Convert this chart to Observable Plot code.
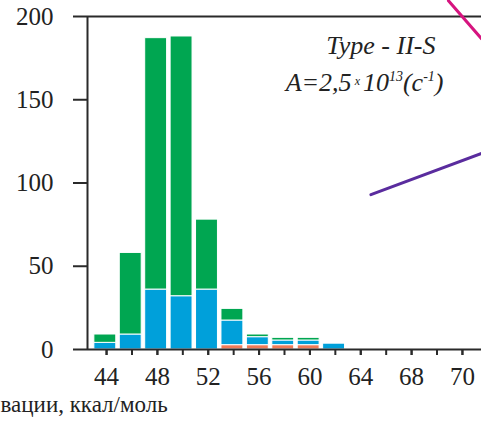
<!DOCTYPE html>
<html><head><meta charset="utf-8">
<script src="https://cdn.jsdelivr.net/npm/d3@7"></script>
<script src="https://cdn.jsdelivr.net/npm/@observablehq/plot@0.6"></script>
<style>
body{margin:0;background:#fff;}
svg{display:block}
svg text, svg tspan{font-family:"Liberation Serif","Times New Roman",serif !important;}
</style>
</head><body><div id="chart"></div>
<script>
// bins (activation energy, kcal/mol) and stacked counts per series
const bins   = [44, 46, 48, 50, 52, 54, 56, 58, 60, 62];
const seriesA = [0, 0, 0, 0, 0, 2.6, 2.6, 2.6, 2.6, 0];        // orange (bottom)
const seriesB = [4, 9, 36, 32, 36, 14.8, 4.8, 2.8, 2.8, 3.5];   // blue
const seriesC = [5, 49, 151, 156, 42, 7, 1.6, 1.6, 1.6, 0];     // green (top)
const seriesNames  = ["A", "B", "C"];
const seriesColors = ["#ef7b58", "#00a0da", "#00a651"];

const xTicks = [44, 46, 48, 50, 52, 54, 56, 58, 60, 62, 64, 66, 68, 70, 72];
const xLabelTicks = [44, 48, 52, 56, 60, 64, 68, 72];
const xTickLabels = ["44", "48", "52", "56", "60", "64", "68", "70"];
const yTicks = [0, 50, 100, 150, 200];

const purpleX  = [64.8, 73.5];
const purpleY  = [93, 117.8];
const magentaX = [70.9, 73.5];
const magentaY = [209.5, 186.7];

const titleText = "Type - II-S";
const xLabelText = "вации, ккал/моль";

const seriesValues = {A: seriesA, B: seriesB, C: seriesC};
const rows = [];
bins.forEach((b, i) => {
  let base = 0;
  for (const s of seriesNames) {
    const v = seriesValues[s][i];
    if (v > 0) rows.push({bin: b, series: s, y1: base, y2: base + v});
    base += v;
  }
});
const labelMap = new Map(xLabelTicks.map((p, i) => [p, xTickLabels[i]]));
const pts = (xs, ys) => xs.map((x, i) => ({x, y: ys[i]}));

const axisColor = "#2a2a2a";
const chart = Plot.plot({
  width: 481, height: 423,
  marginTop: 16, marginBottom: 74, marginLeft: 87, marginRight: 0,
  x: {type: "linear", domain: [42.5, 73.5], axis: null},
  y: {domain: [0, 200], axis: null},
  color: {type: "ordinal", domain: seriesNames, range: seriesColors},
  style: "font-family: 'Liberation Serif', 'Times New Roman', serif; font-size: 25px; color: #222; background: white;",
  marks: [
    Plot.rectY(rows, {x1: d => d.bin - 1, x2: d => d.bin + 1, y1: "y1", y2: "y2", fill: "series",
      stroke: "white", strokeWidth: 1, insetLeft: 0.5, insetRight: 3}),
    Plot.ruleY([0, 200], {stroke: axisColor, strokeWidth: 2}),
    Plot.ruleX([42.5], {stroke: axisColor, strokeWidth: 2}),
    Plot.axisY({ticks: yTicks, tickSize: 14, tickPadding: 20, fontSize: 25, stroke: axisColor, strokeWidth: 2, fill: "#222", label: null}),
    Plot.axisX({ticks: xTicks, tickSize: 6, tickFormat: () => "", stroke: axisColor, strokeWidth: 2, label: null}),
    Plot.axisX({ticks: xLabelTicks, tickSize: 6, tickPadding: 12, tickFormat: d => labelMap.get(d), fontSize: 25, stroke: axisColor, strokeWidth: 2, fill: "#222", label: null}),
    Plot.line(pts(purpleX, purpleY), {x: "x", y: "y", stroke: "#5a2c9e", strokeWidth: 3}),
    Plot.line(pts(magentaX, magentaY), {x: "x", y: "y", stroke: "#d6147f", strokeWidth: 3}),
    Plot.text([titleText], {frameAnchor: "top-right", lineAnchor: "middle", dx: -46, dy: 29, textAnchor: "end", fontStyle: "italic", fontSize: 26, fill: "#222"}),
    Plot.text(["FORMULA"], {frameAnchor: "top-right", lineAnchor: "middle", dx: -38, dy: 66, textAnchor: "end", fontStyle: "italic", fontSize: 26, fill: "#222"}),
    Plot.text([xLabelText], {frameAnchor: "bottom-left", lineAnchor: "middle", dx: -87, dy: 55, textAnchor: "start", fontSize: 23, fill: "#222"})
  ]
});
document.getElementById("chart").appendChild(chart);

// build formula with superscripts
const svg = d3.select(chart.tagName.toLowerCase() === "svg" ? chart : chart.querySelector("svg"));
svg.selectAll("text").filter(function() { return this.textContent === "FORMULA"; }).each(function() {
  const t = d3.select(this);
  t.text("");
  const parts = [
    {s: "A=2,5"},
    {s: " x ", size: 12, dy: -6},
    {s: "10", dy: 6},
    {s: "13", size: 14, dy: -10},
    {s: "(c", dy: 10},
    {s: "-1", size: 14, dy: -10},
    {s: ")", dy: 10}
  ];
  for (const p of parts) {
    const ts = t.append("tspan").text(p.s);
    if (p.size) ts.attr("font-size", p.size);
    if (p.dy) ts.attr("dy", p.dy);
  }
});
</script>
</body></html>
